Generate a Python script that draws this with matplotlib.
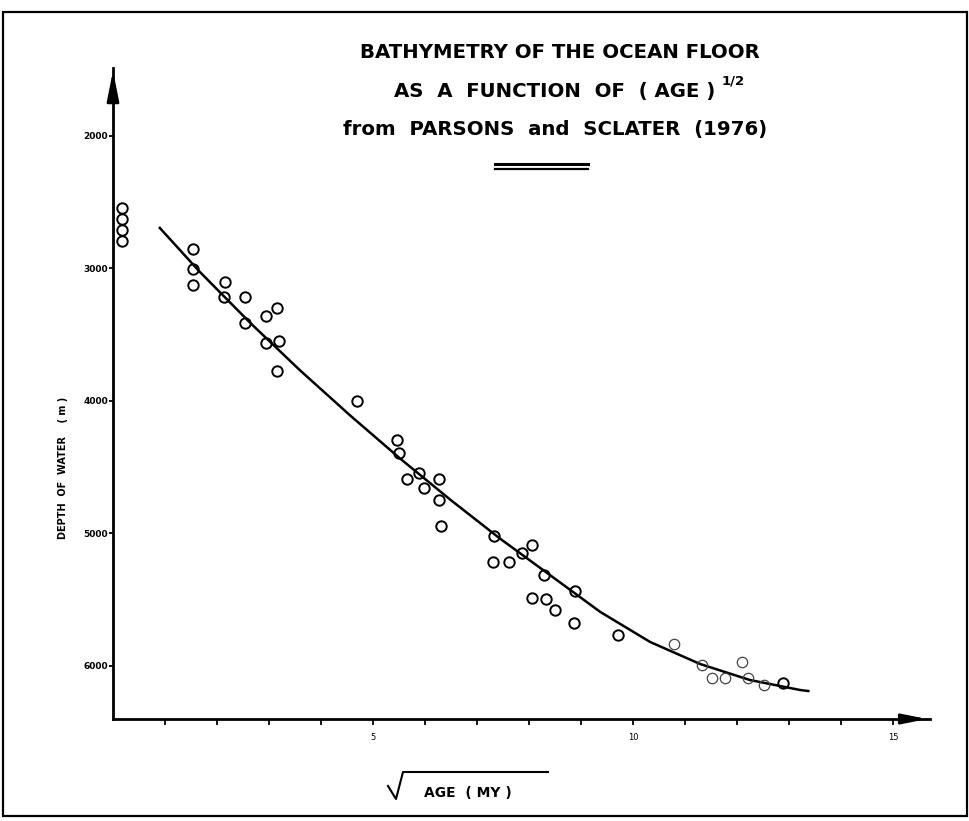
import matplotlib
matplotlib.use("Agg")
import matplotlib.pyplot as plt
from matplotlib.lines import Line2D
from matplotlib.patches import Rectangle

# Bathymetry vs sqrt(age), Parsons & Sclater (1976)

# points sitting on the ridge crest, right next to the depth axis
crest_age = [0.17, 0.17, 0.17, 0.17]
crest_depth = [2546, 2629, 2712, 2790]

# main cloud of measurements
sqrt_age = [1.53, 1.53, 1.53, 2.15, 2.14, 2.54, 2.54, 2.94, 3.15, 2.94,
            3.20, 3.15, 4.69, 5.47, 5.49, 5.65, 5.89, 5.98, 6.27, 6.27,
            6.30, 7.33, 7.30, 7.62, 7.86, 8.06, 8.28, 8.89, 8.06, 8.33,
            8.49, 8.87, 9.71, 12.89]
depth = [2853, 3006, 3125, 3100, 3217, 3217, 3409, 3356, 3296, 3560,
         3545, 3771, 3998, 4294, 4390, 4589, 4546, 4659, 4589, 4747,
         4943, 5019, 5213, 5217, 5145, 5087, 5315, 5434, 5489, 5494,
         5577, 5673, 5766, 6131]

# half-printed circles near the old end of the curve
faint_age = [10.78, 11.32, 11.52, 11.77, 12.09, 12.21, 12.51]
faint_depth = [5834, 5992, 6091, 6091, 5968, 6091, 6143]

# the fitted curve, traced by eye
curve_age = [0.90, 1.67, 2.64, 3.60, 4.56, 5.52, 6.48, 7.44, 8.40, 9.37,
             10.33, 11.29, 12.25, 13.21, 13.37]
curve_depth = [2694, 3026, 3411, 3770, 4109, 4434, 4743, 5038, 5313, 5592,
               5819, 5985, 6106, 6181, 6189]

x_ticks = [5, 10, 15]
x_minor = [1, 2, 3, 4, 6, 7, 8, 9, 11, 12, 13, 14]
y_ticks = [2000, 3000, 4000, 5000, 6000]

W, H = 970, 821


def fx(px):
    return px / W


def fy(py):
    return 1 - py / H


fig = plt.figure(figsize=(9.7, 8.21), dpi=100)
ax = fig.add_axes([fx(113), fy(719), (930 - 113) / W, (719 - 68) / H])
ax.set_xlim(0, 15.71)
ax.set_ylim(6400, 1487)

for s in ["top", "right"]:
    ax.spines[s].set_visible(False)
for s in ["left", "bottom"]:
    ax.spines[s].set_linewidth(2)

# arrow heads on the axes
ax.annotate("", xy=(0, 1), xytext=(0, 0.96), xycoords="axes fraction",
            arrowprops=dict(arrowstyle="-|>,head_length=1.8,head_width=0.36",
                            mutation_scale=10, color="black", lw=2),
            annotation_clip=False)
ax.annotate("", xy=(1, 0), xytext=(0.97, 0), xycoords="axes fraction",
            arrowprops=dict(arrowstyle="-|>,head_length=1.5,head_width=0.3",
                            mutation_scale=10, color="black", lw=2),
            annotation_clip=False)

ax.set_xticks(x_ticks)
ax.set_xticks(x_minor, minor=True)
ax.set_yticks(y_ticks)
ax.tick_params(axis="x", which="both", direction="out", length=4, width=1.3,
               labelsize=6, pad=6)
ax.tick_params(axis="y", direction="out", length=3, width=1.3,
               labelsize=6.5, pad=0.5)
for lab in ax.get_yticklabels():
    lab.set_fontweight("bold")

ax.plot(curve_age, curve_depth, color="black", lw=1.8, clip_on=False)
ax.plot(sqrt_age, depth, "o", ms=7.5, mfc="none", mec="black", mew=1.4)
ax.plot(crest_age, crest_depth, "o", ms=7.5, mfc="none", mec="black",
        mew=1.4, clip_on=False)
ax.plot(faint_age, faint_depth, "o", ms=7.5, mfc="none", mec="#444444",
        mew=0.9, ls="none")

# title block
fig.text(fx(560), fy(52), "BATHYMETRY OF THE OCEAN FLOOR", ha="center",
         va="center", fontsize=14.2, fontweight="bold")
fig.text(fx(715), fy(91), "AS  A  FUNCTION  OF  ( AGE )", ha="right",
         va="center", fontsize=14.2, fontweight="bold")
fig.text(fx(722), fy(81), "1/2", ha="left", va="center", fontsize=9.5,
         fontweight="bold")
fig.text(fx(555), fy(129), "from  PARSONS  and  SCLATER  (1976)",
         ha="center", va="center", fontsize=14.2, fontweight="bold")
fig.add_artist(Line2D([fx(495), fx(588)], [fy(164), fy(164)], color="black",
                      lw=2.2))
fig.add_artist(Line2D([fx(495), fx(588)], [fy(169), fy(169)], color="black",
                      lw=1.6))

# axis titles
fig.text(fx(63), fy(468), "DEPTH  OF  WATER    ( m )", rotation=90,
         ha="center", va="center", fontsize=7, fontweight="bold")
fig.add_artist(Line2D([fx(388), fx(396), fx(403), fx(548)],
                      [fy(786), fy(799), fy(772), fy(772)], color="black",
                      lw=1.5))
fig.text(fx(468), fy(793), "AGE  ( MY )", ha="center", va="center",
         fontsize=10, fontweight="bold")

# frame around the page
fig.add_artist(Rectangle((fx(3), fy(816)), fx(967) - fx(3), fy(12) - fy(816),
                         fill=False, ec="black", lw=1.6,
                         transform=fig.transFigure))

plt.savefig("out.png", dpi=100)
